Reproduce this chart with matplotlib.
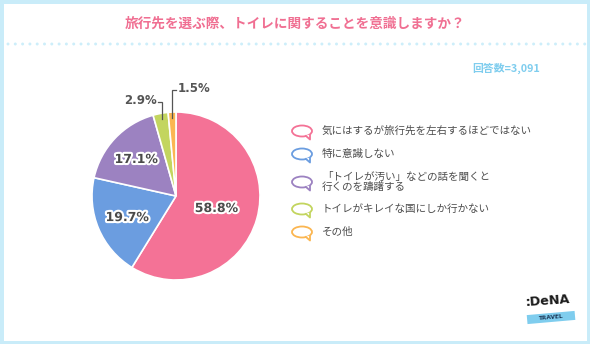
import numpy as np
import matplotlib
matplotlib.use("Agg")
import matplotlib.pyplot as plt
from matplotlib.patches import Rectangle, Ellipse, Polygon
import matplotlib.patheffects as pe

plt.rcParams['font.family'] = ['Noto Sans CJK JP', 'DejaVu Sans']

# ---- data ----
title = "旅行先を選ぶ際、トイレに関することを意識しますか？"
n_text = "回答数=3,091"
categories = ["気にはするが旅行先を左右するほどではない",
              "特に意識しない",
              "「トイレが汚い」などの話を聞くと\n行くのを躊躇する",
              "トイレがキレイな国にしか行かない",
              "その他"]
values = [58.8, 19.7, 17.1, 2.9, 1.5]
labels = ["58.8%", "19.7%", "17.1%", "2.9%", "1.5%"]
colors = ["#f47296", "#6b9de0", "#9c82c1", "#c3d55f", "#fbb651"]

W, H = 590, 344
def Y(py):
    return H - py

fig = plt.figure(figsize=(5.9, 3.44), dpi=100, facecolor="#c9ecf9")
ax = fig.add_axes([0, 0, 1, 1])
ax.axis("off")

# white panel inside light-blue border
ax.add_patch(Rectangle((3.5, 3.5), W - 7, H - 7, facecolor="white", edgecolor="none", zorder=0))

# title
ax.text(W / 2, Y(24), title, ha="center", va="center", fontsize=9.8,
        fontweight="bold", color="#f06f92")
# dotted separator
xs = np.arange(8, 586, 7.3)
ax.scatter(xs, np.full_like(xs, Y(44)), s=4.5, color="#cdeefa", edgecolors="none", zorder=1)

ax.text(540, Y(68), n_text, ha="right", va="center", fontsize=7.8,
        fontweight="bold", color="#7fcdee")

# pie
cx, cy, R = 176, Y(196), 84
wedges, _ = ax.pie(values, colors=colors, startangle=90, counterclock=False,
                   center=(cx, cy), radius=R,
                   wedgeprops=dict(edgecolor="white", linewidth=1.2))

inner_r = [0.50, 0.63, 0.65]
for i in range(3):
    w = wedges[i]
    ang = np.deg2rad((w.theta1 + w.theta2) / 2)
    r = inner_r[i] * R
    ax.text(cx + r * np.cos(ang), cy + r * np.sin(ang) - 1, labels[i],
            ha="center", va="center", fontsize=9, fontweight="bold",
            family="DejaVu Sans", color="#4a4a4a",
            path_effects=[pe.withStroke(linewidth=3, foreground="white")])

# outside labels with bracket leaders
outer = {3: (Y(102), -1), 4: (Y(90), +1)}
for i, (ytop, side) in outer.items():
    w = wedges[i]
    ang = np.deg2rad((w.theta1 + w.theta2) / 2)
    r = 0.93 * R
    x0, y0 = cx + r * np.cos(ang), cy + r * np.sin(ang)
    x1 = x0 + side * 3.5
    ax.plot([x0, x0, x1], [y0, ytop, ytop], color="#555555", lw=0.9,
            solid_joinstyle="miter")
    ax.text(x1 + side * 1.5, ytop + 1, labels[i], ha="left" if side > 0 else "right",
            va="center", fontsize=8.5, fontweight="bold", family="DejaVu Sans",
            color="#555555")

# legend
row_y = [131, 154, 182, 209, 232]
for c, lab, ry in zip(colors, categories, row_y):
    ex, ey = 302, Y(ry)
    ax.add_patch(Ellipse((ex, ey), 20, 11, facecolor="white", edgecolor=c, lw=1.3, zorder=3))
    ax.add_patch(Polygon([[ex + 4, ey - 4.5], [ex + 8, ey - 8.5], [ex + 8.5, ey - 3.5]],
                         closed=True, facecolor="white", edgecolor="none", zorder=4))
    ax.plot([ex + 4, ex + 8, ex + 8], [ey - 5, ey - 8.5, ey - 4], color=c, lw=1.3, zorder=5)
    ax.text(322, ey, lab, ha="left", va="center", fontsize=7.6, color="#4d4d4d",
            linespacing=1.05)

# logo
ax.text(548, Y(301), ":DeNA", ha="center", va="center", fontsize=9.2, fontweight="heavy",
        family="DejaVu Sans", color="#1a1a1a", rotation=4)
band = Rectangle((527, Y(322)), 48, 9, facecolor="#7fcdee", edgecolor="none")
t = matplotlib.transforms.Affine2D().rotate_deg_around(551, Y(317), 5) + ax.transData
band.set_transform(t)
ax.add_patch(band)
ax.text(551, Y(317), "TRAVEL", ha="center", va="center", fontsize=4.2, fontweight="bold",
        family="DejaVu Sans", color="#1d3a5a", rotation=5)

ax.set_xlim(0, W)
ax.set_ylim(0, H)
ax.set_aspect("auto")
fig.savefig("out.png", dpi=100, facecolor=fig.get_facecolor())
